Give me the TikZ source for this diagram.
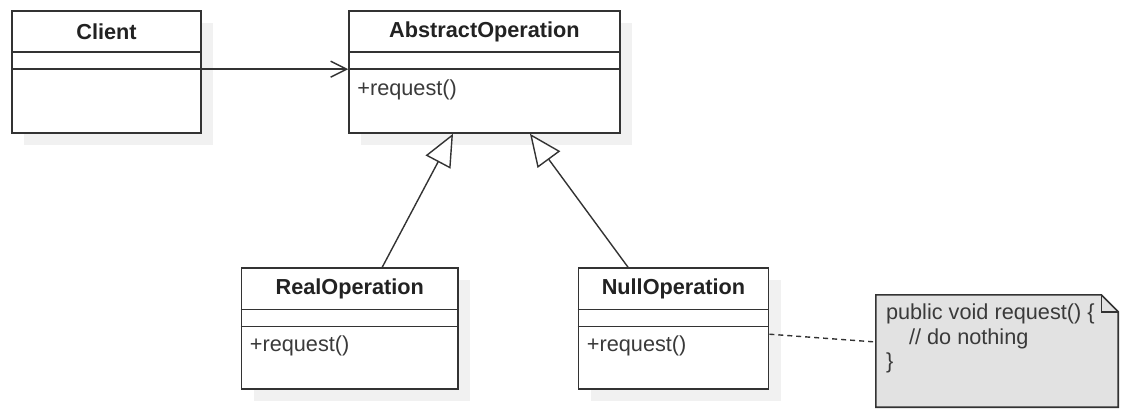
\documentclass[tikz,border=0pt]{standalone}
\usepackage{fontspec}
\setmainfont{Liberation Sans}
\usetikzlibrary{arrows.meta,shadows,calc}
\definecolor{edge}{HTML}{333333}
\definecolor{txt}{HTML}{222222}
\definecolor{mtxt}{HTML}{3A3A3A}
\definecolor{notefill}{HTML}{E2E2E2}
\definecolor{shadowc}{HTML}{F1F1F1}
\tikzset{
  x=1pt,y=1pt,
  classbox/.style={draw=edge,line width=1.6pt,fill=white,inner sep=0pt,minimum height=121pt,
    drop shadow={shadow xshift=12pt,shadow yshift=-12pt,fill=shadowc,opacity=1}},
  sepline/.style={draw=edge,line width=1.4pt},
  title/.style={font=\fontsize{21.7}{25}\selectfont\bfseries,text=txt,inner sep=0pt},
  method/.style={font=\fontsize{21.7}{25}\selectfont,text=mtxt,inner sep=0pt,anchor=base west},
  assoc/.style={draw=edge,line width=1.4pt,-{Straight Barb[length=16pt,width=16pt,line width=1.4pt]}},
  gen/.style={draw=edge,line width=1.4pt,-{Triangle[open,length=32pt,width=28pt,fill=white]}},
  notelink/.style={draw=edge,line width=1.4pt,dash pattern=on 5pt off 4pt},
  notetext/.style={font=\fontsize{21.7}{24.5}\selectfont,text=mtxt,align=left,inner sep=0pt,anchor=north west}
}
\begin{document}
\begin{tikzpicture}
\useasboundingbox (0,0) rectangle (1132,-420);
% classes
\node[classbox,minimum width=189pt,minimum height=122pt] (client) at (106.5,-72) {};
\node[classbox,minimum width=271pt,minimum height=122pt] (abs) at (484.5,-72) {};
\node[classbox,minimum width=216.5pt] (real) at (349.75,-328.5) {};
\node[classbox,minimum width=190pt] (null) at (673.5,-328.5) {};
% separators
\foreach \n in {client,abs,real,null}{
  \draw[sepline] ([yshift=-42pt]\n.north west) -- ([yshift=-42pt]\n.north east);
  \draw[sepline] ([yshift=-59pt]\n.north west) -- ([yshift=-59pt]\n.north east);
}
% titles
\node[title] (clientT) at ([yshift=-22pt]client.north) {Client};
\node[title] (absT) at ([yshift=-22pt]abs.north) {AbstractOperation};
\node[title] (realT) at ([yshift=-22pt]real.north) {RealOperation};
\node[title] (nullT) at ([yshift=-22pt]null.north) {NullOperation};
% methods
\node[method] (absM) at ([xshift=9pt,yshift=-85pt]abs.north west) {+request()};
\node[method] (realM) at ([xshift=9pt,yshift=-84pt]real.north west) {+request()};
\node[method] (nullM) at ([xshift=9pt,yshift=-84pt]null.north west) {+request()};
% note
\node[inner sep=0pt,minimum width=242pt,minimum height=112pt] (note) at (997,-351) {};
\fill[notefill] (note.north west) -- ([xshift=-17pt]note.north east) -- ([yshift=-17pt]note.north east) -- (note.south east) -- (note.south west) -- cycle;
\draw[edge,line width=1.6pt,line join=miter] (note.north west) -- ([xshift=-17pt]note.north east) -- ([yshift=-17pt]note.north east) -- (note.south east) -- (note.south west) -- cycle;
\draw[edge,line width=1.4pt] ([xshift=-17pt]note.north east) |- ([yshift=-17pt]note.north east);
\node[notetext] (noteT) at ([xshift=10pt,yshift=-9pt]note.north west) {public void request() \{\\\hspace*{23pt}// do nothing\\\}};
% connectors
\draw[assoc] ([yshift=-59pt]client.north east) -- ([yshift=-59pt]abs.north west);
\draw[gen] ([xshift=32.5pt]real.north) -- ([xshift=-31.5pt]abs.south);
\draw[gen] ([xshift=-45.5pt]null.north) -- ([xshift=45.5pt]abs.south);
\draw[notelink] ([yshift=-67pt]null.north east) -- ([yshift=9pt]note.west);
\end{tikzpicture}
\end{document}
